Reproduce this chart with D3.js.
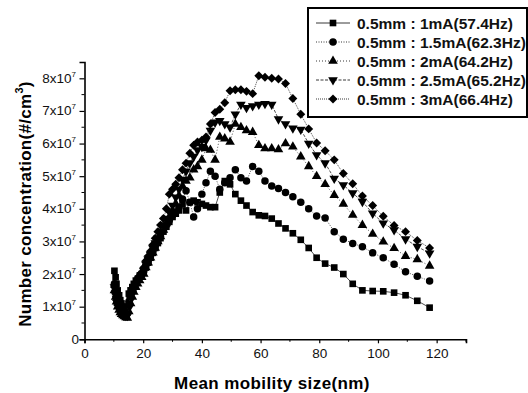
<!DOCTYPE html>
<html>
<head>
<meta charset="utf-8">
<script src="https://cdn.jsdelivr.net/npm/d3@7"></script>
<style>
  body { margin: 0; background: #fff; }
  svg { font-family: "Liberation Sans", Arial, sans-serif; }
</style>
</head>
<body>
<svg id="chart" width="528" height="393"></svg>
<script>
// mobility size channels (nm)
var sizes = [10.2,10.6,10.9,11.3,11.8,12.2,12.6,13.1,13.6,14.1,
  14.6,15.1,15.7,16.3,16.8,17.5,18.1,18.8,19.5,20.2,
  20.9,21.7,22.5,23.3,24.1,25.0,25.9,26.9,27.9,28.9,
  30.0,31.1,32.2,33.4,34.6,35.9,37.2,38.5,40.0,41.4,
  42.9,44.5,46.1,47.8,49.6,51.4,53.3,55.2,57.3,59.4,
  61.5,63.8,66.1,68.5,71.0,73.7,76.4,79.1,82.0,85.1,
  88.2,91.4,94.7,98.2,101.8,105.5,109.4,113.4,117.6];

// number concentration, in units of 1e7 #/cm3
var conc1mA = [2.1,1.9,1.7,1.5,1.35,1.2,1.1,1.0,0.95,0.95,
  1.0,1.4,1.5,1.6,1.7,1.8,1.85,1.95,2.0,2.1,
  2.2,2.35,2.5,2.65,2.8,2.95,3.1,3.3,3.45,3.6,
  3.75,3.85,3.95,4.15,3.95,4.2,4.25,4.2,4.15,4.1,
  4.05,4.05,4.5,4.85,4.75,4.45,4.25,4.1,3.9,3.8,
  3.78,3.7,3.55,3.4,3.25,3.05,2.8,2.5,2.32,2.2,
  2.0,1.7,1.5,1.48,1.47,1.43,1.35,1.18,0.97];
var conc15mA = [1.7,1.5,1.35,1.2,1.05,0.95,0.9,0.85,0.8,0.78,
  0.8,1.15,1.35,1.5,1.6,1.7,1.8,1.9,2.0,2.1,
  2.25,2.4,2.55,2.7,2.85,3.0,3.15,3.35,3.5,3.65,
  3.8,3.9,4.05,4.3,4.55,4.2,3.75,4.0,4.45,4.8,
  5.15,5.0,4.6,4.8,4.95,5.2,4.95,4.85,5.3,5.15,
  4.85,4.7,4.62,4.5,4.37,4.2,4.0,3.78,3.72,3.3,
  3.07,2.94,2.84,2.65,2.5,2.3,2.07,1.93,1.79];
var conc2mA = [1.5,1.3,1.15,1.0,0.9,0.82,0.77,0.73,0.7,0.67,
  0.65,0.85,1.1,1.3,1.45,1.6,1.7,1.8,1.9,2.0,
  2.2,2.35,2.5,2.65,2.8,3.0,3.15,3.35,3.55,3.75,
  3.95,4.15,4.4,4.7,4.85,4.95,5.2,5.3,5.5,5.85,
  5.8,5.5,6.2,6.15,6.05,6.6,6.5,6.4,6.35,5.95,
  5.85,5.85,5.82,6.0,5.9,5.6,5.3,5.0,4.75,4.42,
  4.15,3.81,3.5,3.23,2.99,2.79,2.55,2.45,2.25];
var conc25mA = [1.6,1.4,1.25,1.1,0.95,0.87,0.82,0.78,0.75,0.72,
  0.72,0.95,1.2,1.4,1.55,1.68,1.78,1.88,1.98,2.1,
  2.3,2.45,2.6,2.8,2.95,3.1,3.3,3.5,3.7,3.9,
  4.1,4.35,4.6,4.9,5.15,5.4,5.6,5.8,5.9,6.1,
  6.4,6.65,6.7,6.6,6.5,6.9,7.2,7.1,7.15,7.2,
  7.22,7.2,6.75,6.6,6.47,6.43,6.0,5.65,5.4,4.93,
  4.73,4.48,4.22,3.86,3.56,3.35,3.07,2.84,2.64];
var conc3mA = [1.6,1.4,1.2,1.05,0.95,0.88,0.83,0.8,0.78,0.76,
  0.78,1.05,1.3,1.5,1.65,1.75,1.85,1.95,2.05,2.2,
  2.4,2.55,2.7,2.9,3.1,3.3,3.5,3.7,4.0,4.45,
  4.6,4.75,4.95,5.2,5.4,5.7,5.95,6.05,6.1,6.2,
  6.6,6.95,7.05,7.25,7.62,7.65,7.65,7.6,7.53,8.08,
  8.03,8.0,7.98,7.84,7.38,6.9,6.45,6.02,5.78,5.5,
  5.08,4.77,4.39,4.1,3.77,3.49,3.3,3.03,2.8];

var seriesNames = ["0.5mm : 1mA(57.4Hz)", "0.5mm : 1.5mA(62.3Hz)", "0.5mm : 2mA(64.2Hz)",
  "0.5mm : 2.5mA(65.2Hz)", "0.5mm : 3mA(66.4Hz)"];
var seriesValues = [conc1mA, conc15mA, conc2mA, conc25mA, conc3mA];
var markers = ["square", "circle", "triangle", "triangleDown", "diamond"];
var dashes = [null, "1,1.5", "1,2", "3,1.5", "1,1"];

var yTicks = [0, 1, 2, 3, 4, 5, 6, 7, 8];
var xTicks = [0, 20, 40, 60, 80, 100, 120];

var svg = d3.select("#chart");

var x = d3.scaleLinear().domain([0, 130]).range([84.5, 466]);
var y = d3.scaleLinear().domain([0, 8.5]).range([339.3, 62]);

function symbolPath(kind) {
  if (kind == "square") return d3.symbol().type(d3.symbolSquare).size(44)();
  if (kind == "circle") return d3.symbol().type(d3.symbolCircle).size(44)();
  if (kind == "diamond") return d3.symbol().type(d3.symbolSquare).size(40)();
  return d3.symbol().type(d3.symbolTriangle).size(40)();
}
function symbolRot(kind) {
  if (kind == "triangleDown") return " rotate(180)";
  if (kind == "diamond") return " rotate(45)";
  return "";
}

// axes
var xAxis = d3.axisBottom(x).tickValues(xTicks).tickSize(4).tickPadding(5).tickFormat(d3.format("d"));
var gx = svg.append("g").attr("transform", "translate(0," + y(0) + ")").call(xAxis);
gx.selectAll("line").attr("stroke", "#000").attr("stroke-width", 1.2);
gx.select(".domain").attr("stroke", "#000").attr("stroke-width", 1.6);
gx.selectAll("text").attr("font-size", 13.5).attr("fill", "#111");
svg.append("g").selectAll("line")
  .data(d3.range(10, 131, 20))
  .enter().append("line")
  .attr("x1", d => x(d)).attr("x2", d => x(d))
  .attr("y1", y(0)).attr("y2", y(0) + 2.5)
  .attr("stroke", "#000").attr("stroke-width", 1);

var yAxis = d3.axisLeft(y).tickValues(yTicks).tickSize(5).tickPadding(4).tickFormat("");
var gy = svg.append("g").attr("transform", "translate(" + x(0) + ",0)").call(yAxis);
gy.selectAll("line").attr("stroke", "#000").attr("stroke-width", 1.2);
gy.select(".domain").attr("stroke", "#000").attr("stroke-width", 1.6);
svg.append("g").selectAll("line")
  .data(d3.range(0.5, 8.5, 1))
  .enter().append("line")
  .attr("x1", x(0)).attr("x2", x(0) - 3)
  .attr("y1", d => y(d)).attr("y2", d => y(d))
  .attr("stroke", "#000").attr("stroke-width", 1);

var yLab = svg.append("g").selectAll("text")
  .data(yTicks)
  .enter().append("text")
  .attr("x", 76)
  .attr("y", d => y(d) + 4.5)
  .attr("text-anchor", "end")
  .attr("font-size", 13.5)
  .attr("fill", "#111");
yLab.each(function(d) {
  var t = d3.select(this);
  if (d === 0) { t.attr("x", 79).text("0"); return; }
  t.append("tspan").text(d + "x10");
  t.append("tspan").attr("font-size", 8).attr("dy", -6).text("7");
});

// axis titles
svg.append("text")
  .attr("x", 272).attr("y", 389)
  .attr("text-anchor", "middle")
  .attr("font-size", 17).attr("font-weight", "bold")
  .attr("letter-spacing", 0.4)
  .text("Mean mobility size(nm)");

var yt = svg.append("text")
  .attr("transform", "translate(31,204) rotate(-90)")
  .attr("text-anchor", "middle")
  .attr("font-size", 17).attr("font-weight", "bold")
  .attr("letter-spacing", 0.3);
yt.append("tspan").text("Number concentration(#/cm");
yt.append("tspan").attr("font-size", 11).attr("dy", -8).text("3");
yt.append("tspan").attr("dy", 8).text(")");

// series
var line = d3.line()
  .x((d, i) => x(sizes[i]))
  .y(d => y(d));

seriesValues.forEach(function(vals, s) {
  svg.append("path")
    .datum(vals)
    .attr("d", line)
    .attr("fill", "none")
    .attr("stroke", "#222")
    .attr("stroke-width", 0.8)
    .attr("stroke-dasharray", dashes[s]);
  svg.append("g").selectAll("path")
    .data(vals)
    .enter().append("path")
    .attr("d", symbolPath(markers[s]))
    .attr("transform", (d, i) => "translate(" + x(sizes[i]) + "," + y(d) + ")" + symbolRot(markers[s]))
    .attr("fill", "#000");
});

// legend
var legend = svg.append("g");
legend.append("rect")
  .attr("x", 308).attr("y", 8)
  .attr("width", 219).attr("height", 109)
  .attr("fill", "#fff")
  .attr("stroke", "#000").attr("stroke-width", 2);

var rows = legend.selectAll("g.row")
  .data(seriesNames)
  .enter().append("g")
  .attr("class", "row")
  .attr("transform", (d, i) => "translate(0," + (23 + i * 19) + ")");
rows.append("line")
  .attr("x1", 316).attr("x2", 350)
  .attr("stroke", "#222").attr("stroke-width", 0.9)
  .attr("stroke-dasharray", (d, i) => dashes[i]);
rows.append("path")
  .attr("d", (d, i) => symbolPath(markers[i]))
  .attr("transform", (d, i) => "translate(333,0)" + symbolRot(markers[i]))
  .attr("fill", "#000");
rows.append("text")
  .attr("x", 357).attr("y", 5.5)
  .attr("font-size", 15.5).attr("font-weight", "bold")
  .attr("fill", "#111")
  .text(d => d);
</script>
</body>
</html>
